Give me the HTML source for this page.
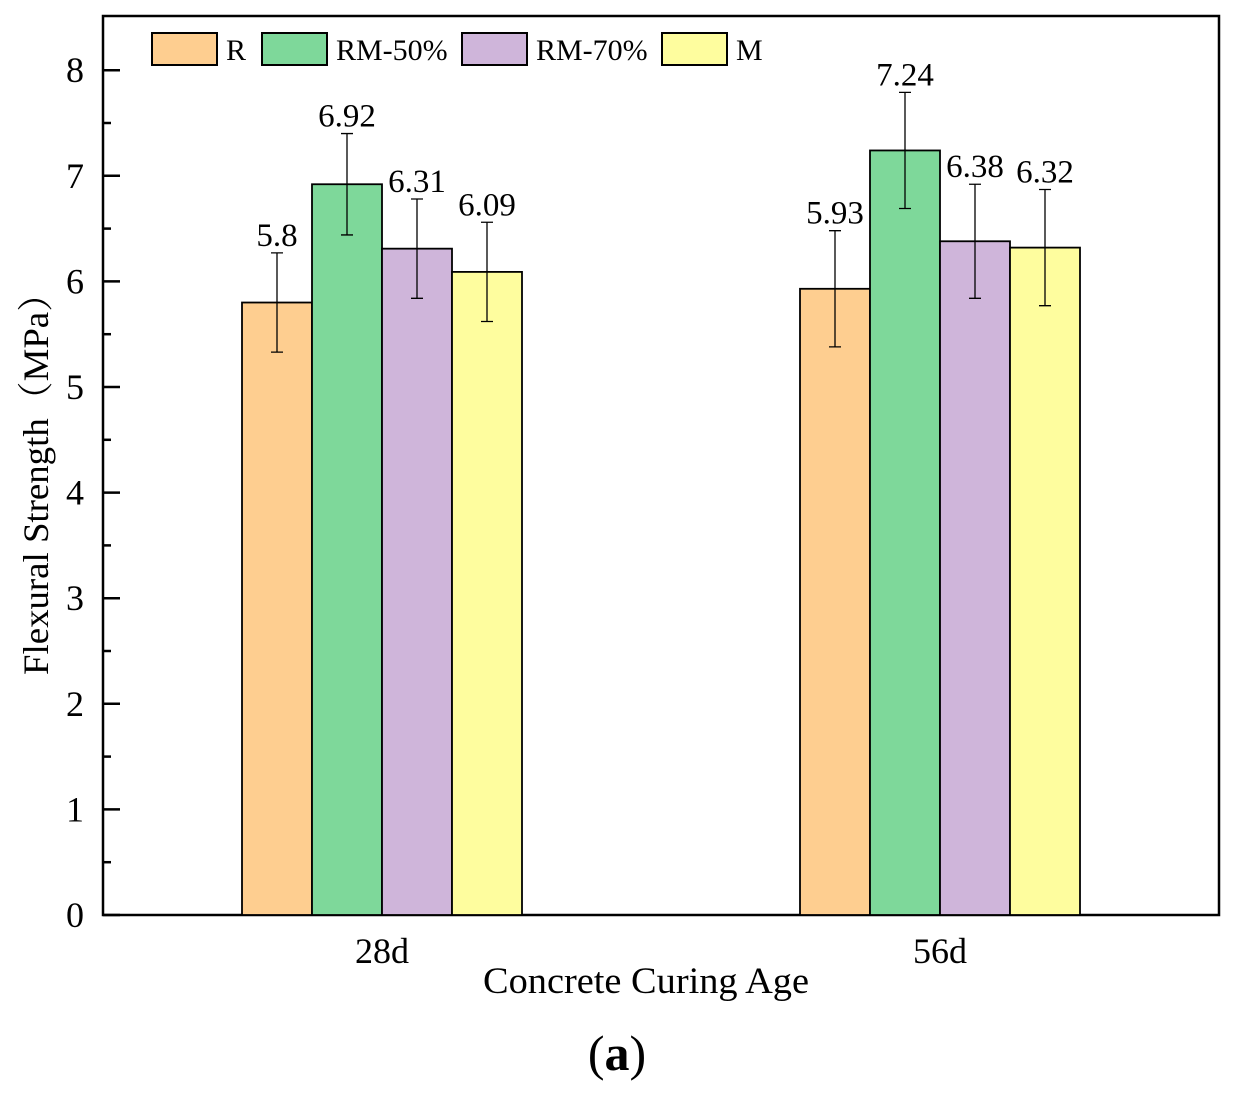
<!DOCTYPE html>
<html><head><meta charset="utf-8"><style>
body{margin:0;background:#fff}
svg text{font-family:"Liberation Serif","Noto Serif CJK SC",serif;fill:#000}
</style></head><body>
<svg id="chart" width="1236" height="1091" xmlns="http://www.w3.org/2000/svg">
<rect x="103" y="16" width="1116" height="899" fill="#fff" stroke="#000" stroke-width="2.5"/>
<g id="ticks"></g>
<g id="bars"></g>
<g id="legend"></g>
<text transform="translate(48,475) rotate(-90)" text-anchor="middle" font-size="36" textLength="400" lengthAdjust="spacingAndGlyphs">Flexural Strength（MPa）</text>
<text x="646" y="993" text-anchor="middle" font-size="37" textLength="326" lengthAdjust="spacingAndGlyphs">Concrete Curing Age</text>
<text x="617" y="1070" text-anchor="middle" font-size="50">(<tspan font-weight="bold">a</tspan>)</text>
</svg>
<script>
const categories=["28d","56d"];
const series=["R","RM-50%","RM-70%","M"];
const valuesR=[5.8,5.93];
const valuesRM50=[6.92,7.24];
const valuesRM70=[6.31,6.38];
const valuesM=[6.09,6.32];
const errR=[0.47,0.55];
const errRM50=[0.48,0.55];
const errRM70=[0.47,0.54];
const errM=[0.47,0.55];
const yTicks=[0,1,2,3,4,5,6,7,8];
const colors=["#FECE90","#7ED89A","#CFB5DA","#FEFD9E"];
const allVals=[valuesR,valuesRM50,valuesRM70,valuesM];
const allErr=[errR,errRM50,errRM70,errM];
const NS="http://www.w3.org/2000/svg";
function y(v){return 915-v*105.6;}
function xc(i){return 382+i*558;}
const bw=70;
function mk(tag,attrs,parent){const e=document.createElementNS(NS,tag);for(const k in attrs)e.setAttribute(k,attrs[k]);parent.appendChild(e);return e;}
const tg=document.getElementById('ticks');
yTicks.forEach(t=>{
 const l=mk('line',{x1:103,x2:120,y1:y(t),y2:y(t),stroke:'#000','stroke-width':2.5},tg);
 
 
 if(t<8){const m=mk('line',{x1:103,x2:111,y1:y(t+0.5),y2:y(t+0.5),stroke:'#000','stroke-width':2.5},tg);
 
 }
 const tx=mk('text',{x:84,y:y(t)+12,'text-anchor':'end','font-size':36},tg);tx.textContent=t;
 
 
});
categories.forEach((c,i)=>{
 const l=mk('line',{x1:xc(i),x2:xc(i),y1:915,y2:900,stroke:'#000','stroke-width':2.5},tg);
 
 
 const tx=mk('text',{x:xc(i),y:963,'text-anchor':'middle','font-size':36},tg);tx.textContent=c;
 
 
});
const bg=document.getElementById('bars');
categories.forEach((c,i)=>{
 series.forEach((s,j)=>{
  const v=allVals[j][i],e=allErr[j][i];
  const x0=xc(i)-2*bw+j*bw;
  const r=mk('rect',{x:x0,y:y(v),width:bw,height:915-y(v),fill:colors[j],stroke:'#000','stroke-width':1.8},bg);
  
  
  const cx=x0+bw/2;
  const eb=mk('path',{d:`M${cx},${y(v+e)}V${y(v-e)}M${cx-6},${y(v+e)}H${cx+6}M${cx-6},${y(v-e)}H${cx+6}`,stroke:'#000','stroke-width':1.3,fill:'none'},bg);
  
  
  const t=mk('text',{x:cx,y:y(v+e)-7,'text-anchor':'middle','font-size':33},bg);t.textContent=v;
  
  
 });
});
const lg=document.getElementById('legend');
const lx=[152,262,462,662];
series.forEach((s,j)=>{
 const r=mk('rect',{x:lx[j],y:33,width:65,height:32,fill:colors[j],stroke:'#000','stroke-width':2},lg);
 
 
 const t=mk('text',{x:lx[j]+74,y:60,'font-size':30},lg);t.textContent=s;
 
 
});
</script>
</body></html>
